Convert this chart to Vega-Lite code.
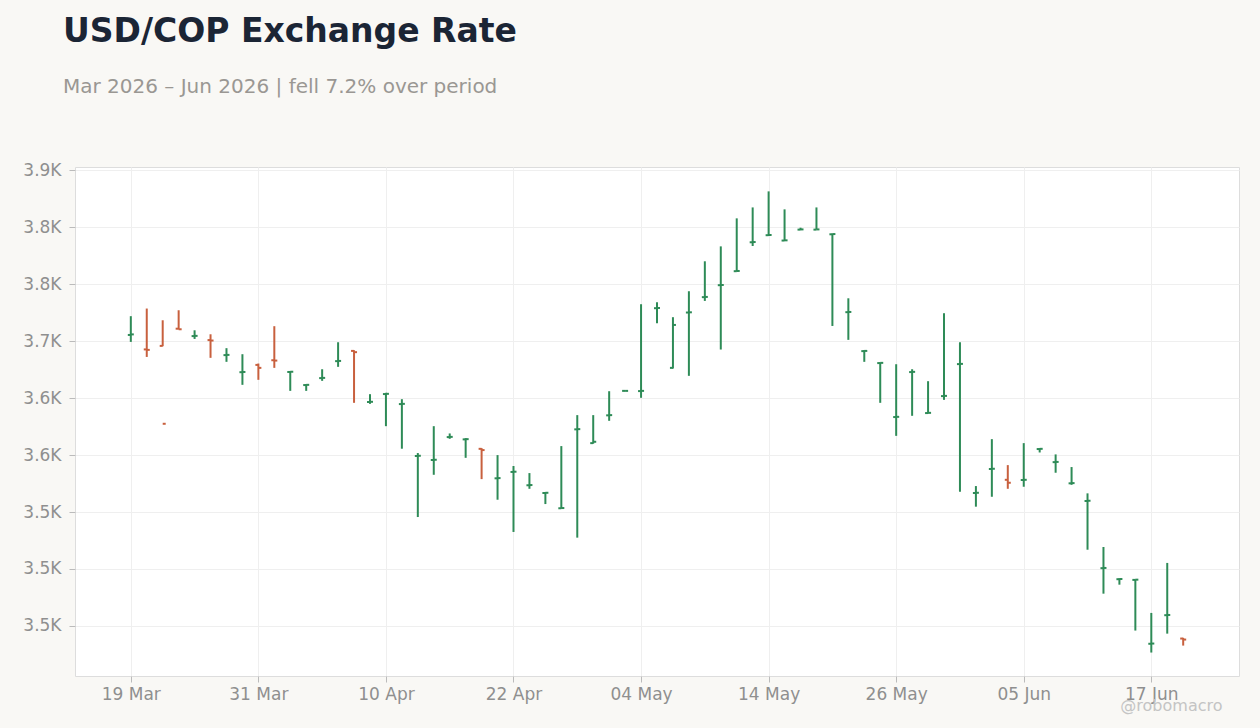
{
  "$schema": "https://vega.github.io/schema/vega-lite/v6.json",
  "width": 1164,
  "height": 509,
  "autosize": {"type": "none"},
  "padding": {"left": 75, "top": 167, "right": 21, "bottom": 52},
  "background": "#f9f8f5",
  "title": {
    "text": "USD/COP Exchange Rate",
    "subtitle": "Mar 2026 – Jun 2026 | fell 7.2% over period",
    "anchor": "start",
    "frame": "group",
    "dx": -12,
    "offset": 64,
    "font": "DejaVu Sans",
    "fontSize": 33,
    "fontWeight": "bold",
    "color": "#1b2535",
    "subtitleFont": "DejaVu Sans",
    "subtitleFontSize": 20,
    "subtitleColor": "#9a9793",
    "subtitlePadding": 28
  },
  "config": {
    "font": "DejaVu Sans",
    "view": {"fill": "#ffffff", "stroke": "#dddddd", "strokeWidth": 1},
    "axis": {
      "gridColor": "#efefef",
      "gridWidth": 1,
      "domain": false,
      "tickColor": "#bbbbbb",
      "tickSize": 6,
      "labelColor": "#8f8f8f",
      "labelFont": "DejaVu Sans",
      "labelFontSize": 17
    }
  },
  "data": {
    "values": [
      {"date": "2026-03-19", "open": 3705.5, "high": 3722.0, "low": 3699.4, "close": 3706.0},
      {"date": "2026-03-20", "open": 3692.8, "high": 3728.7, "low": 3686.2, "close": 3692.4},
      {"date": "2026-03-23", "open": 3695.9, "high": 3718.4, "low": 3695.6, "close": 3627.5},
      {"date": "2026-03-24", "open": 3711.0, "high": 3727.2, "low": 3710.4, "close": 3710.5},
      {"date": "2026-03-25", "open": 3704.5, "high": 3709.6, "low": 3702.0, "close": 3704.7},
      {"date": "2026-03-26", "open": 3701.0, "high": 3706.1, "low": 3685.4, "close": 3700.6},
      {"date": "2026-03-27", "open": 3687.8, "high": 3693.9, "low": 3681.9, "close": 3688.0},
      {"date": "2026-03-30", "open": 3672.8, "high": 3688.6, "low": 3661.7, "close": 3673.0},
      {"date": "2026-03-31", "open": 3679.2, "high": 3680.4, "low": 3666.1, "close": 3676.6},
      {"date": "2026-04-01", "open": 3683.3, "high": 3713.2, "low": 3676.6, "close": 3683.0},
      {"date": "2026-04-02", "open": 3673.0, "high": 3673.7, "low": 3656.4, "close": 3673.2},
      {"date": "2026-04-03", "open": 3661.5, "high": 3662.3, "low": 3656.4, "close": 3661.7},
      {"date": "2026-04-06", "open": 3667.6, "high": 3675.4, "low": 3665.2, "close": 3667.8},
      {"date": "2026-04-07", "open": 3682.5, "high": 3699.1, "low": 3677.5, "close": 3682.7},
      {"date": "2026-04-08", "open": 3691.5, "high": 3692.1, "low": 3645.9, "close": 3690.4},
      {"date": "2026-04-09", "open": 3646.6, "high": 3653.5, "low": 3645.0, "close": 3646.8},
      {"date": "2026-04-10", "open": 3653.6, "high": 3654.7, "low": 3625.4, "close": 3653.8},
      {"date": "2026-04-13", "open": 3644.8, "high": 3649.1, "low": 3605.6, "close": 3645.0},
      {"date": "2026-04-14", "open": 3599.2, "high": 3601.8, "low": 3545.6, "close": 3599.4},
      {"date": "2026-04-15", "open": 3595.7, "high": 3625.4, "low": 3582.7, "close": 3595.9},
      {"date": "2026-04-16", "open": 3615.8, "high": 3619.0, "low": 3614.3, "close": 3616.0},
      {"date": "2026-04-17", "open": 3613.8, "high": 3614.9, "low": 3597.6, "close": 3614.0},
      {"date": "2026-04-20", "open": 3605.5, "high": 3606.1, "low": 3578.9, "close": 3604.4},
      {"date": "2026-04-21", "open": 3579.6, "high": 3600.0, "low": 3560.8, "close": 3579.8},
      {"date": "2026-04-22", "open": 3585.2, "high": 3590.4, "low": 3532.5, "close": 3585.4},
      {"date": "2026-04-23", "open": 3573.5, "high": 3584.2, "low": 3570.4, "close": 3573.7},
      {"date": "2026-04-24", "open": 3566.7, "high": 3567.5, "low": 3557.0, "close": 3566.9},
      {"date": "2026-04-27", "open": 3553.3, "high": 3607.9, "low": 3552.9, "close": 3553.5},
      {"date": "2026-04-28", "open": 3622.6, "high": 3635.1, "low": 3527.5, "close": 3622.8},
      {"date": "2026-04-29", "open": 3610.5, "high": 3635.1, "low": 3610.0, "close": 3611.7},
      {"date": "2026-04-30", "open": 3634.9, "high": 3656.1, "low": 3630.1, "close": 3635.1},
      {"date": "2026-05-01", "open": 3656.4, "high": 3656.6, "low": 3656.2, "close": 3656.4},
      {"date": "2026-05-04", "open": 3656.2, "high": 3732.5, "low": 3650.3, "close": 3656.4},
      {"date": "2026-05-05", "open": 3729.0, "high": 3734.2, "low": 3715.8, "close": 3729.2},
      {"date": "2026-05-06", "open": 3676.6, "high": 3721.1, "low": 3676.0, "close": 3714.3},
      {"date": "2026-05-07", "open": 3725.2, "high": 3743.9, "low": 3669.6, "close": 3725.4},
      {"date": "2026-05-08", "open": 3738.7, "high": 3770.2, "low": 3735.4, "close": 3738.9},
      {"date": "2026-05-11", "open": 3749.2, "high": 3783.3, "low": 3692.7, "close": 3749.4},
      {"date": "2026-05-12", "open": 3761.5, "high": 3807.9, "low": 3761.1, "close": 3761.7},
      {"date": "2026-05-13", "open": 3786.9, "high": 3817.5, "low": 3783.6, "close": 3787.1},
      {"date": "2026-05-14", "open": 3793.1, "high": 3831.6, "low": 3792.4, "close": 3793.3},
      {"date": "2026-05-15", "open": 3788.4, "high": 3815.8, "low": 3788.0, "close": 3788.6},
      {"date": "2026-05-18", "open": 3798.0, "high": 3799.7, "low": 3797.6, "close": 3798.2},
      {"date": "2026-05-19", "open": 3798.0, "high": 3817.5, "low": 3798.0, "close": 3798.2},
      {"date": "2026-05-20", "open": 3793.9, "high": 3794.5, "low": 3713.4, "close": 3794.1},
      {"date": "2026-05-21", "open": 3725.5, "high": 3737.7, "low": 3701.2, "close": 3725.7},
      {"date": "2026-05-22", "open": 3691.3, "high": 3692.1, "low": 3681.9, "close": 3691.5},
      {"date": "2026-05-25", "open": 3680.8, "high": 3681.3, "low": 3645.9, "close": 3681.0},
      {"date": "2026-05-26", "open": 3633.4, "high": 3679.8, "low": 3616.9, "close": 3633.6},
      {"date": "2026-05-27", "open": 3672.9, "high": 3675.4, "low": 3634.5, "close": 3673.1},
      {"date": "2026-05-28", "open": 3636.9, "high": 3664.9, "low": 3636.6, "close": 3637.1},
      {"date": "2026-05-29", "open": 3651.8, "high": 3724.6, "low": 3648.5, "close": 3652.0},
      {"date": "2026-06-01", "open": 3679.9, "high": 3699.1, "low": 3567.8, "close": 3680.1},
      {"date": "2026-06-02", "open": 3566.7, "high": 3572.8, "low": 3554.7, "close": 3566.9},
      {"date": "2026-06-03", "open": 3587.8, "high": 3614.0, "low": 3563.4, "close": 3588.0},
      {"date": "2026-06-04", "open": 3578.3, "high": 3591.2, "low": 3570.4, "close": 3575.7},
      {"date": "2026-06-05", "open": 3578.1, "high": 3610.5, "low": 3572.2, "close": 3578.3},
      {"date": "2026-06-08", "open": 3605.3, "high": 3606.1, "low": 3602.3, "close": 3605.5},
      {"date": "2026-06-09", "open": 3593.8, "high": 3600.6, "low": 3584.5, "close": 3594.0},
      {"date": "2026-06-10", "open": 3575.2, "high": 3589.5, "low": 3573.9, "close": 3575.4},
      {"date": "2026-06-11", "open": 3559.7, "high": 3566.4, "low": 3516.9, "close": 3559.9},
      {"date": "2026-06-12", "open": 3500.7, "high": 3519.3, "low": 3478.3, "close": 3500.9},
      {"date": "2026-06-15", "open": 3491.0, "high": 3491.8, "low": 3486.2, "close": 3491.2},
      {"date": "2026-06-16", "open": 3490.4, "high": 3490.9, "low": 3445.9, "close": 3490.6},
      {"date": "2026-06-17", "open": 3434.3, "high": 3461.4, "low": 3426.6, "close": 3434.5},
      {"date": "2026-06-18", "open": 3459.4, "high": 3505.3, "low": 3443.2, "close": 3459.6},
      {"date": "2026-06-19", "open": 3438.9, "high": 3439.5, "low": 3432.7, "close": 3438.0}
    ]
  },
  "encoding": {
    "x": {
      "field": "date",
      "type": "ordinal",
      "scale": {
        "type": "point",
        "padding": 0.5,
        "domain": [
          "2026-03-16", "2026-03-17", "2026-03-18",
          "2026-03-19", "2026-03-20", "2026-03-23", "2026-03-24", "2026-03-25", "2026-03-26", "2026-03-27",
          "2026-03-30", "2026-03-31", "2026-04-01", "2026-04-02", "2026-04-03",
          "2026-04-06", "2026-04-07", "2026-04-08", "2026-04-09", "2026-04-10",
          "2026-04-13", "2026-04-14", "2026-04-15", "2026-04-16", "2026-04-17",
          "2026-04-20", "2026-04-21", "2026-04-22", "2026-04-23", "2026-04-24",
          "2026-04-27", "2026-04-28", "2026-04-29", "2026-04-30", "2026-05-01",
          "2026-05-04", "2026-05-05", "2026-05-06", "2026-05-07", "2026-05-08",
          "2026-05-11", "2026-05-12", "2026-05-13", "2026-05-14", "2026-05-15",
          "2026-05-18", "2026-05-19", "2026-05-20", "2026-05-21", "2026-05-22",
          "2026-05-25", "2026-05-26", "2026-05-27", "2026-05-28", "2026-05-29",
          "2026-06-01", "2026-06-02", "2026-06-03", "2026-06-04", "2026-06-05",
          "2026-06-08", "2026-06-09", "2026-06-10", "2026-06-11", "2026-06-12",
          "2026-06-15", "2026-06-16", "2026-06-17", "2026-06-18", "2026-06-19",
          "2026-06-22", "2026-06-23", "2026-06-24"
        ]
      },
      "axis": {
        "values": ["2026-03-19", "2026-03-31", "2026-04-10", "2026-04-22", "2026-05-04", "2026-05-14", "2026-05-26", "2026-06-05", "2026-06-17"],
        "labelExpr": "utcFormat(toDate(datum.value), '%d %b')",
        "labelAngle": 0,
        "grid": true,
        "labelPadding": 4,
        "title": "@robomacro",
        "titleFont": "DejaVu Sans",
        "titleFontSize": 16,
        "titleFontWeight": "normal",
        "titleColor": "#c4c4c4",
        "titleX": 1147,
        "titleY": 29,
        "titleAlign": "right",
        "titleBaseline": "middle"
      }
    },
    "color": {
      "condition": {"test": "datum.close >= datum.open", "value": "#2e8b57"},
      "value": "#c8603e"
    }
  },
  "layer": [
    {
      "mark": {"type": "rule", "strokeWidth": 2},
      "encoding": {
        "y": {
          "field": "low",
          "type": "quantitative",
          "scale": {"domain": [3406, 3853], "nice": false, "zero": false},
          "axis": {
            "values": [3450, 3500, 3550, 3600, 3650, 3700, 3750, 3800, 3850],
            "labelExpr": "format(datum.value / 1000, '.1f') + 'K'",
            "grid": true,
            "labelPadding": 8,
            "title": null
          }
        },
        "y2": {"field": "high"}
      }
    },
    {
      "mark": {"type": "tick", "orient": "horizontal", "size": 3, "thickness": 2, "xOffset": -1.5, "opacity": 1},
      "encoding": {"y": {"field": "open", "type": "quantitative", "title": null}}
    },
    {
      "mark": {"type": "tick", "orient": "horizontal", "size": 3, "thickness": 2, "xOffset": 1.5, "opacity": 1},
      "encoding": {"y": {"field": "close", "type": "quantitative", "title": null}}
    }
  ]
}
